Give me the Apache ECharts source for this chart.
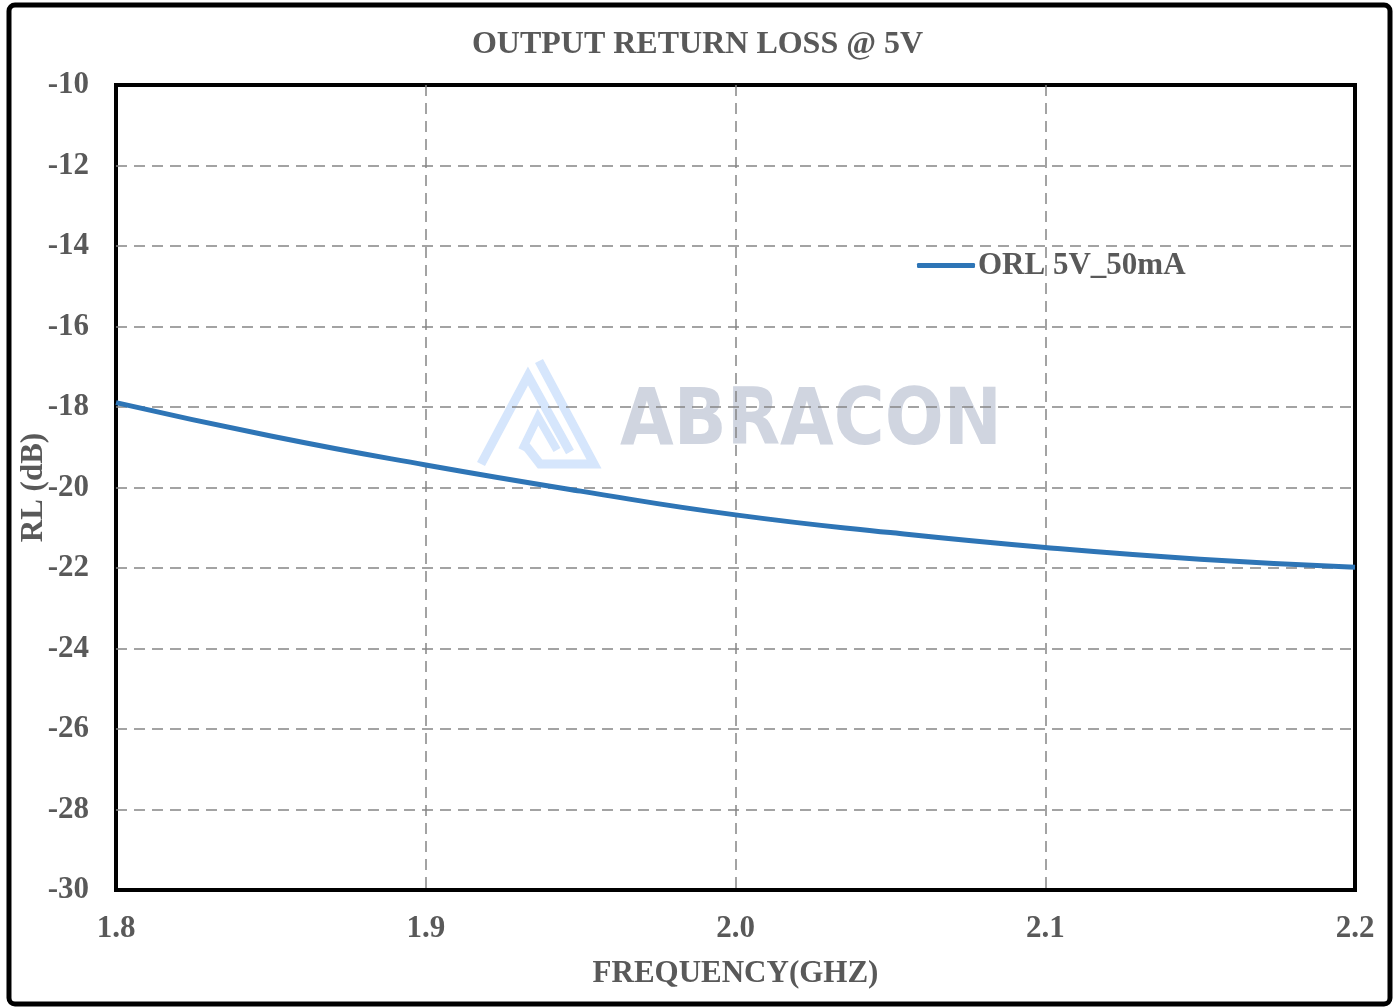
<!DOCTYPE html>
<html>
<head>
<meta charset="utf-8">
<title>Output Return Loss @ 5V</title>
<script src="https://cdn.jsdelivr.net/npm/echarts@6/dist/echarts.min.js"></script>
<style>
  html, body { margin: 0; padding: 0; background: #fff; }
  #chart { width: 1395px; height: 1007px; }
</style>
</head>
<body>
<div id="chart"></div>
<script>
// values
const freqGHz = [1.80, 1.85, 1.90, 1.95, 2.00, 2.05, 2.10, 2.15, 2.20]
const orl5V50mA = [-17.89, -18.72, -19.44, -20.09, -20.68, -21.12, -21.49, -21.78, -21.98]

const seriesName = 'ORL 5V_50mA'
const titleText = 'OUTPUT RETURN LOSS @ 5V'
const xName = 'FREQUENCY(GHZ)'
const yName = 'RL (dB)'

const textGray = '#595959'
const fontFam = '"Liberation Serif", "Times New Roman", serif'
const logoBlue = '#d6e6fc'

const chart = echarts.init(document.getElementById('chart'))

const option = {
  backgroundColor: '#fff',
  animation: false,
  title: {
    text: titleText,
    left: 'center',
    top: 24,
    textStyle: { fontFamily: fontFam, fontWeight: 'bold', fontSize: 32, color: textGray }
  },
  legend: {
    data: [seriesName],
    left: 912,
    top: 245,
    icon: 'roundRect',
    itemWidth: 58,
    itemHeight: 5,
    itemGap: 4,
    textStyle: { fontFamily: fontFam, fontWeight: 'bold', fontSize: 31, color: textGray, padding: [0, 0, 0, -2] }
  },
  grid: {
    left: 116,
    top: 85,
    right: 40,
    bottom: 117,
    show: true,
    borderColor: '#000',
    borderWidth: 4
  },
  xAxis: {
    type: 'value',
    min: 1.8,
    max: 2.2,
    interval: 0.1,
    name: xName,
    nameLocation: 'middle',
    nameGap: 68,
    nameMoveOverlap: false,
    nameTextStyle: { fontFamily: fontFam, fontWeight: 'bold', fontSize: 31, color: textGray },
    axisLine: { show: false },
    axisTick: { show: false },
    axisLabel: {
      margin: 23,
      fontFamily: fontFam, fontWeight: 'bold', fontSize: 31, color: textGray,
      formatter: v => v.toFixed(1)
    },
    splitLine: {
      showMinLine: false,
      showMaxLine: false,
      lineStyle: { color: '#858585', width: 1.5, type: [11, 7] }
    }
  },
  yAxis: {
    type: 'value',
    min: -30,
    max: -10,
    interval: 2,
    name: yName,
    nameLocation: 'middle',
    nameGap: 67,
    nameMoveOverlap: false,
    nameTextStyle: { fontFamily: fontFam, fontWeight: 'bold', fontSize: 31, color: textGray },
    axisLine: { show: false },
    axisTick: { show: false },
    axisLabel: {
      margin: 27,
      fontFamily: fontFam, fontWeight: 'bold', fontSize: 31, color: textGray
    },
    splitLine: {
      showMinLine: false,
      showMaxLine: false,
      lineStyle: { color: '#858585', width: 1.5, type: [11, 7] }
    }
  },
  graphic: [
    // outer frame of the picture
    {
      type: 'rect',
      z: 100,
      shape: { x: 9, y: 5, width: 1381, height: 999, r: 6 },
      style: { fill: 'none', stroke: '#000', lineWidth: 5 }
    },
    // faint ABRACON watermark, sits under the gridlines
    {
      type: 'group',
      z: -1,
      children: [
        {
          type: 'polyline',
          shape: { points: [[481, 464], [528, 376], [570, 452]] },
          style: { stroke: logoBlue, lineWidth: 9, fill: 'none' }
        },
        {
          type: 'polyline',
          shape: { points: [[539, 361], [594, 464], [540, 464], [526, 446]] },
          style: { stroke: logoBlue, lineWidth: 9, fill: 'none' }
        },
        {
          type: 'polyline',
          shape: { points: [[522, 450], [538, 417], [557, 450]] },
          style: { stroke: logoBlue, lineWidth: 8, fill: 'none' }
        },
        {
          type: 'text',
          x: 620,
          y: 385,
          scaleX: 0.89,
          style: {
            text: 'ABRACON',
            font: 'bold 78px "DejaVu Sans"',
            fill: '#d0d5e0',
            textVerticalAlign: 'top'
          }
        }
      ]
    }
  ],
  series: [
    {
      name: seriesName,
      type: 'line',
      smooth: true,
      showSymbol: false,
      symbol: 'none',
      data: freqGHz.map((f, i) => [f, orl5V50mA[i]]),
      lineStyle: { color: '#2e75b6', width: 5 },
      itemStyle: { color: '#2e75b6' }
    }
  ]
}

chart.setOption(option)
window.addEventListener('resize', () => chart.resize())
</script>
</body>
</html>
